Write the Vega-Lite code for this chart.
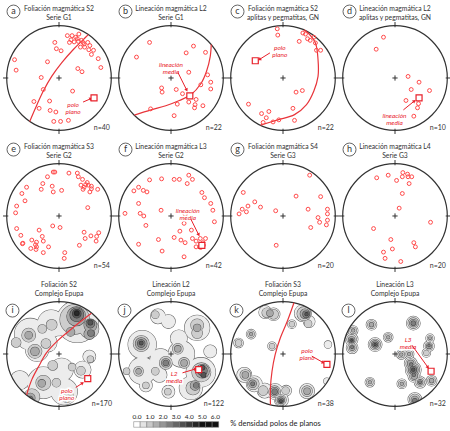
{
"$schema":"https://vega.github.io/schema/vega-lite/v6.json",
"padding":{"left":1,"top":0,"right":0,"bottom":0},
"spacing":0,
"config":{"view":{"stroke":null},"font":"Lato"},
"vconcat":[
{
"data":{"values":[
{"panel":"a","kind":"title","t1":"Foliación magmática S2","t2":"Serie G1","n":"n=40","lx":-0.87,"ly":1.27},
{"panel":"b","kind":"title","t1":"Lineación magmática L2","t2":"Serie G1","n":"n=22","lx":-0.87,"ly":1.27},
{"panel":"c","kind":"title","t1":"Foliación magmática S2","t2":"aplitas y pegmatitas, GN","n":"n=22","lx":-0.87,"ly":1.27},
{"panel":"d","kind":"title","t1":"Lineación magmática L2","t2":"aplitas y pegmatitas, GN","n":"n=10","lx":-0.87,"ly":1.27},
{"panel":"e","kind":"title","t1":"Foliación magmática S3","t2":"Serie G2","n":"n=54","lx":-0.87,"ly":1.27},
{"panel":"f","kind":"title","t1":"Lineación magmática L3","t2":"Serie G2","n":"n=42","lx":-0.87,"ly":1.27},
{"panel":"g","kind":"title","t1":"Foliación magmática S4","t2":"Serie G3","n":"n=20","lx":-0.87,"ly":1.27},
{"panel":"h","kind":"title","t1":"Lineación magmática L4","t2":"Serie G3","n":"n=20","lx":-0.87,"ly":1.27},
{"panel":"i","kind":"title","t1":"Foliación S2","t2":"Complejo Epupa","n":"n=170","lx":-0.89,"ly":0.83},
{"panel":"j","kind":"title","t1":"Lineación L2","t2":"Complejo Epupa","n":"n=122","lx":-0.89,"ly":0.83},
{"panel":"k","kind":"title","t1":"Foliación S3","t2":"Complejo Epupa","n":"n=38","lx":-0.89,"ly":0.83},
{"panel":"l","kind":"title","t1":"Lineación L3","t2":"Complejo Epupa","n":"n=32","lx":-0.89,"ly":0.83},

{"panel":"a","kind":"pt","x":0.16,"y":0.81},{"panel":"a","kind":"pt","x":0.25,"y":0.81},{"panel":"a","kind":"pt","x":0.38,"y":0.84},{"panel":"a","kind":"pt","x":0.35,"y":0.75},{"panel":"a","kind":"pt","x":0.20,"y":0.68},{"panel":"a","kind":"pt","x":0.29,"y":0.69},{"panel":"a","kind":"pt","x":-0.08,"y":0.68},{"panel":"a","kind":"pt","x":0.46,"y":0.68},{"panel":"a","kind":"pt","x":0.55,"y":0.68},{"panel":"a","kind":"pt","x":0.48,"y":0.65},{"panel":"a","kind":"pt","x":0.41,"y":0.59},{"panel":"a","kind":"pt","x":0.49,"y":0.59},{"panel":"a","kind":"pt","x":0.57,"y":0.54},{"panel":"a","kind":"pt","x":0.66,"y":0.53},{"panel":"a","kind":"pt","x":-0.05,"y":0.56},{"panel":"a","kind":"pt","x":0.04,"y":0.52},{"panel":"a","kind":"pt","x":0.75,"y":0.37},{"panel":"a","kind":"pt","x":0.80,"y":0.20},{"panel":"a","kind":"pt","x":-0.85,"y":0.35},{"panel":"a","kind":"pt","x":-0.82,"y":0.15},{"panel":"a","kind":"pt","x":-0.22,"y":0.31},{"panel":"a","kind":"pt","x":0.36,"y":0.18},{"panel":"a","kind":"pt","x":0.44,"y":0.12},{"panel":"a","kind":"pt","x":-0.34,"y":0.01},{"panel":"a","kind":"pt","x":-0.30,"y":-0.22},{"panel":"a","kind":"pt","x":0.26,"y":-0.25},{"panel":"a","kind":"pt","x":-0.48,"y":-0.45},{"panel":"a","kind":"pt","x":-0.18,"y":-0.44},{"panel":"a","kind":"pt","x":-0.38,"y":-0.58},{"panel":"a","kind":"pt","x":-0.17,"y":-0.62},{"panel":"a","kind":"pt","x":-0.06,"y":-0.65},{"panel":"a","kind":"pt","x":-0.10,"y":-0.83},{"panel":"a","kind":"pt","x":0.03,"y":-0.83},{"panel":"a","kind":"pt","x":0.18,"y":-0.81},{"panel":"a","kind":"pt","x":0.43,"y":0.72},{"panel":"a","kind":"pt","x":0.32,"y":0.78},{"panel":"a","kind":"pt","x":0.59,"y":0.62},{"panel":"a","kind":"pt","x":0.37,"y":0.70},{"panel":"a","kind":"pt","x":0.23,"y":0.73},{"panel":"a","kind":"pt","x":0.62,"y":0.45},

{"panel":"b","kind":"pt","x":-0.41,"y":0.68},{"panel":"b","kind":"pt","x":-0.66,"y":0.40},{"panel":"b","kind":"pt","x":0.29,"y":0.48},{"panel":"b","kind":"pt","x":0.43,"y":0.61},{"panel":"b","kind":"pt","x":0.66,"y":0.49},{"panel":"b","kind":"pt","x":0.34,"y":0.11},{"panel":"b","kind":"pt","x":0.70,"y":0.06},{"panel":"b","kind":"pt","x":0.76,"y":-0.08},{"panel":"b","kind":"pt","x":0.57,"y":-0.13},{"panel":"b","kind":"pt","x":0.76,"y":-0.21},{"panel":"b","kind":"pt","x":-0.18,"y":-0.19},{"panel":"b","kind":"pt","x":-0.17,"y":-0.27},{"panel":"b","kind":"pt","x":0.22,"y":-0.30},{"panel":"b","kind":"pt","x":0.10,"y":-0.22},{"panel":"b","kind":"pt","x":0.48,"y":-0.41},{"panel":"b","kind":"pt","x":0.34,"y":-0.46},{"panel":"b","kind":"pt","x":0.46,"y":-0.51},{"panel":"b","kind":"pt","x":0.61,"y":-0.53},{"panel":"b","kind":"pt","x":0.45,"y":-0.57},{"panel":"b","kind":"pt","x":0.12,"y":-0.50},{"panel":"b","kind":"pt","x":-0.39,"y":-0.59},{"panel":"b","kind":"pt","x":0.06,"y":-0.72},

{"panel":"c","kind":"pt","x":-0.11,"y":0.94},{"panel":"c","kind":"pt","x":-0.10,"y":0.82},{"panel":"c","kind":"pt","x":0.38,"y":0.86},{"panel":"c","kind":"pt","x":0.43,"y":0.84},{"panel":"c","kind":"pt","x":0.31,"y":0.70},{"panel":"c","kind":"pt","x":0.52,"y":0.72},{"panel":"c","kind":"pt","x":0.62,"y":0.67},{"panel":"c","kind":"pt","x":0.64,"y":0.53},{"panel":"c","kind":"pt","x":0.72,"y":0.53},{"panel":"c","kind":"pt","x":0.25,"y":-0.27},{"panel":"c","kind":"pt","x":0.37,"y":-0.24},{"panel":"c","kind":"pt","x":-0.66,"y":-0.50},{"panel":"c","kind":"pt","x":-0.27,"y":-0.64},{"panel":"c","kind":"pt","x":-0.41,"y":-0.68},{"panel":"c","kind":"pt","x":0.19,"y":-0.58},{"panel":"c","kind":"pt","x":-0.32,"y":-0.76},{"panel":"c","kind":"pt","x":-0.08,"y":-0.80},{"panel":"c","kind":"pt","x":-0.19,"y":-0.84},{"panel":"c","kind":"pt","x":0.22,"y":-0.81},{"panel":"c","kind":"pt","x":-0.38,"y":-0.85},{"panel":"c","kind":"pt","x":0.59,"y":0.78},{"panel":"c","kind":"pt","x":0.47,"y":0.75},

{"panel":"d","kind":"pt","x":-0.22,"y":0.78},{"panel":"d","kind":"pt","x":-0.36,"y":0.55},{"panel":"d","kind":"pt","x":0.25,"y":0.03},{"panel":"d","kind":"pt","x":0.46,"y":-0.08},{"panel":"d","kind":"pt","x":0.31,"y":-0.22},{"panel":"d","kind":"pt","x":0.66,"y":-0.24},{"panel":"d","kind":"pt","x":0.21,"y":-0.43},{"panel":"d","kind":"pt","x":0.45,"y":-0.49},{"panel":"d","kind":"pt","x":0.43,"y":-0.57},{"panel":"d","kind":"pt","x":0.36,"y":-0.73},

{"panel":"e","kind":"pt","x":-0.11,"y":0.84},{"panel":"e","kind":"pt","x":-0.08,"y":0.84},{"panel":"e","kind":"pt","x":0.19,"y":0.82},{"panel":"e","kind":"pt","x":0.35,"y":0.82},{"panel":"e","kind":"pt","x":0.37,"y":0.75},{"panel":"e","kind":"pt","x":-0.22,"y":0.75},{"panel":"e","kind":"pt","x":0.45,"y":0.70},{"panel":"e","kind":"pt","x":-0.31,"y":0.62},{"panel":"e","kind":"pt","x":0.42,"y":0.59},{"panel":"e","kind":"pt","x":0.54,"y":0.64},{"panel":"e","kind":"pt","x":0.56,"y":0.59},{"panel":"e","kind":"pt","x":-0.62,"y":0.55},{"panel":"e","kind":"pt","x":-0.13,"y":0.57},{"panel":"e","kind":"pt","x":-0.34,"y":0.51},{"panel":"e","kind":"pt","x":0.46,"y":0.51},{"panel":"e","kind":"pt","x":0.62,"y":0.52},{"panel":"e","kind":"pt","x":0.74,"y":0.51},{"panel":"e","kind":"pt","x":0.05,"y":0.49},{"panel":"e","kind":"pt","x":-0.11,"y":0.46},{"panel":"e","kind":"pt","x":0.59,"y":0.46},{"panel":"e","kind":"pt","x":-0.71,"y":0.43},{"panel":"e","kind":"pt","x":-0.65,"y":0.29},{"panel":"e","kind":"pt","x":-0.81,"y":0.19},{"panel":"e","kind":"pt","x":0.55,"y":0.16},{"panel":"e","kind":"pt","x":-0.83,"y":0.06},{"panel":"e","kind":"pt","x":-0.12,"y":-0.19},{"panel":"e","kind":"pt","x":0.02,"y":-0.22},{"panel":"e","kind":"pt","x":-0.81,"y":-0.24},{"panel":"e","kind":"pt","x":-0.38,"y":-0.27},{"panel":"e","kind":"pt","x":0.48,"y":-0.31},{"panel":"e","kind":"pt","x":-0.73,"y":-0.37},{"panel":"e","kind":"pt","x":-0.32,"y":-0.39},{"panel":"e","kind":"pt","x":0.76,"y":-0.32},{"panel":"e","kind":"pt","x":0.61,"y":-0.38},{"panel":"e","kind":"pt","x":0.72,"y":-0.39},{"panel":"e","kind":"pt","x":0.50,"y":-0.43},{"panel":"e","kind":"pt","x":-0.52,"y":-0.46},{"panel":"e","kind":"pt","x":-0.43,"y":-0.50},{"panel":"e","kind":"pt","x":-0.30,"y":-0.48},{"panel":"e","kind":"pt","x":-0.70,"y":-0.53},{"panel":"e","kind":"pt","x":0.71,"y":-0.48},{"panel":"e","kind":"pt","x":0.39,"y":-0.56},{"panel":"e","kind":"pt","x":-0.43,"y":-0.59},{"panel":"e","kind":"pt","x":-0.54,"y":-0.62},{"panel":"e","kind":"pt","x":-0.44,"y":-0.64},{"panel":"e","kind":"pt","x":-0.20,"y":-0.59},{"panel":"e","kind":"pt","x":-0.30,"y":-0.70},{"panel":"e","kind":"pt","x":0.11,"y":-0.70},{"panel":"e","kind":"pt","x":0.10,"y":-0.81},{"panel":"e","kind":"pt","x":0.48,"y":0.55},{"panel":"e","kind":"pt","x":0.62,"y":0.57},{"panel":"e","kind":"pt","x":-0.69,"y":-0.52},{"panel":"e","kind":"pt","x":0.51,"y":0.60},{"panel":"e","kind":"pt","x":-0.45,"y":-0.55},

{"panel":"f","kind":"pt","x":-0.41,"y":0.69},{"panel":"f","kind":"pt","x":-0.18,"y":0.71},{"panel":"f","kind":"pt","x":0.06,"y":0.70},{"panel":"f","kind":"pt","x":0.16,"y":0.70},{"panel":"f","kind":"pt","x":0.34,"y":0.78},{"panel":"f","kind":"pt","x":0.41,"y":0.70},{"panel":"f","kind":"pt","x":0.31,"y":0.62},{"panel":"f","kind":"pt","x":-0.62,"y":0.55},{"panel":"f","kind":"pt","x":-0.71,"y":0.48},{"panel":"f","kind":"pt","x":-0.53,"y":0.49},{"panel":"f","kind":"pt","x":-0.46,"y":0.46},{"panel":"f","kind":"pt","x":0.59,"y":0.45},{"panel":"f","kind":"pt","x":0.64,"y":0.35},{"panel":"f","kind":"pt","x":-0.62,"y":0.24},{"panel":"f","kind":"pt","x":0.76,"y":0.24},{"panel":"f","kind":"pt","x":0.80,"y":0.11},{"panel":"f","kind":"pt","x":-0.88,"y":0.05},{"panel":"f","kind":"pt","x":-0.59,"y":0.05},{"panel":"f","kind":"pt","x":-0.52,"y":0.00},{"panel":"f","kind":"pt","x":-0.19,"y":0.11},{"panel":"f","kind":"pt","x":0.27,"y":0.03},{"panel":"f","kind":"pt","x":0.83,"y":-0.11},{"panel":"f","kind":"pt","x":0.25,"y":-0.14},{"panel":"f","kind":"pt","x":-0.48,"y":-0.18},{"panel":"f","kind":"pt","x":0.17,"y":-0.29},{"panel":"f","kind":"pt","x":0.39,"y":-0.27},{"panel":"f","kind":"pt","x":0.06,"y":-0.41},{"panel":"f","kind":"pt","x":0.19,"y":-0.46},{"panel":"f","kind":"pt","x":0.41,"y":-0.43},{"panel":"f","kind":"pt","x":0.56,"y":-0.43},{"panel":"f","kind":"pt","x":0.66,"y":-0.43},{"panel":"f","kind":"pt","x":-0.24,"y":-0.45},{"panel":"f","kind":"pt","x":0.27,"y":-0.51},{"panel":"f","kind":"pt","x":0.48,"y":-0.48},{"panel":"f","kind":"pt","x":0.61,"y":-0.51},{"panel":"f","kind":"pt","x":-0.62,"y":-0.54},{"panel":"f","kind":"pt","x":0.48,"y":-0.59},{"panel":"f","kind":"pt","x":0.55,"y":-0.59},{"panel":"f","kind":"pt","x":0.62,"y":-0.56},{"panel":"f","kind":"pt","x":-0.17,"y":-0.67},{"panel":"f","kind":"pt","x":0.25,"y":-0.78},{"panel":"f","kind":"pt","x":0.57,"y":-0.60},

{"panel":"g","kind":"pt","x":0.51,"y":0.78},{"panel":"g","kind":"pt","x":0.25,"y":0.38},{"panel":"g","kind":"pt","x":0.72,"y":0.37},{"panel":"g","kind":"pt","x":-0.76,"y":0.45},{"panel":"g","kind":"pt","x":-0.54,"y":0.27},{"panel":"g","kind":"pt","x":-0.67,"y":0.19},{"panel":"g","kind":"pt","x":-0.43,"y":0.17},{"panel":"g","kind":"pt","x":-0.78,"y":0.13},{"panel":"g","kind":"pt","x":-0.70,"y":0.08},{"panel":"g","kind":"pt","x":-0.84,"y":0.04},{"panel":"g","kind":"pt","x":-0.14,"y":0.10},{"panel":"g","kind":"pt","x":0.48,"y":0.13},{"panel":"g","kind":"pt","x":0.85,"y":0.13},{"panel":"g","kind":"pt","x":0.85,"y":0.04},{"panel":"g","kind":"pt","x":0.67,"y":-0.03},{"panel":"g","kind":"pt","x":0.85,"y":-0.08},{"panel":"g","kind":"pt","x":0.70,"y":-0.12},{"panel":"g","kind":"pt","x":0.83,"y":-0.17},{"panel":"g","kind":"pt","x":0.53,"y":-0.22},{"panel":"g","kind":"pt","x":-0.13,"y":-0.56},

{"panel":"h","kind":"pt","x":-0.35,"y":0.73},{"panel":"h","kind":"pt","x":-0.13,"y":0.78},{"panel":"h","kind":"pt","x":0.15,"y":0.83},{"panel":"h","kind":"pt","x":0.14,"y":0.75},{"panel":"h","kind":"pt","x":0.24,"y":0.80},{"panel":"h","kind":"pt","x":0.25,"y":0.75},{"panel":"h","kind":"pt","x":0.32,"y":0.75},{"panel":"h","kind":"pt","x":0.03,"y":0.68},{"panel":"h","kind":"pt","x":0.27,"y":0.62},{"panel":"h","kind":"pt","x":0.14,"y":0.43},{"panel":"h","kind":"pt","x":0.08,"y":0.15},{"panel":"h","kind":"pt","x":0.68,"y":-0.12},{"panel":"h","kind":"pt","x":-0.41,"y":-0.24},{"panel":"h","kind":"pt","x":-0.08,"y":-0.45},{"panel":"h","kind":"pt","x":0.36,"y":-0.51},{"panel":"h","kind":"pt","x":0.39,"y":-0.59},{"panel":"h","kind":"pt","x":-0.05,"y":-0.63},{"panel":"h","kind":"pt","x":-0.22,"y":-0.69},{"panel":"h","kind":"pt","x":-0.19,"y":-0.81},{"panel":"h","kind":"pt","x":0.11,"y":-0.87},

{"panel":"a","kind":"arc","o":1,"x":-0.56,"y":-0.83},{"panel":"a","kind":"arc","o":2,"x":-0.43,"y":-0.53},{"panel":"a","kind":"arc","o":3,"x":-0.30,"y":-0.25},{"panel":"a","kind":"arc","o":4,"x":-0.14,"y":0.03},{"panel":"a","kind":"arc","o":5,"x":0.05,"y":0.29},{"panel":"a","kind":"arc","o":6,"x":0.27,"y":0.54},{"panel":"a","kind":"arc","o":7,"x":0.46,"y":0.73},{"panel":"a","kind":"arc","o":8,"x":0.56,"y":0.83},
{"panel":"b","kind":"arc","o":1,"x":-0.70,"y":-0.71},{"panel":"b","kind":"arc","o":2,"x":-0.38,"y":-0.61},{"panel":"b","kind":"arc","o":3,"x":-0.10,"y":-0.53},{"panel":"b","kind":"arc","o":4,"x":0.16,"y":-0.43},{"panel":"b","kind":"arc","o":5,"x":0.38,"y":-0.32},{"panel":"b","kind":"arc","o":6,"x":0.57,"y":-0.11},{"panel":"b","kind":"arc","o":7,"x":0.68,"y":0.13},{"panel":"b","kind":"arc","o":8,"x":0.75,"y":0.41},{"panel":"b","kind":"arc","o":9,"x":0.77,"y":0.64},
{"panel":"c","kind":"arc","o":1,"x":-0.43,"y":-0.90},{"panel":"c","kind":"arc","o":2,"x":-0.10,"y":-0.80},{"panel":"c","kind":"arc","o":3,"x":0.22,"y":-0.70},{"panel":"c","kind":"arc","o":4,"x":0.45,"y":-0.51},{"panel":"c","kind":"arc","o":5,"x":0.59,"y":-0.25},{"panel":"c","kind":"arc","o":6,"x":0.67,"y":0.03},{"panel":"c","kind":"arc","o":7,"x":0.67,"y":0.35},{"panel":"c","kind":"arc","o":8,"x":0.62,"y":0.67},{"panel":"c","kind":"arc","o":9,"x":0.48,"y":0.86},{"panel":"c","kind":"arc","o":10,"x":0.40,"y":0.92},
{"panel":"i","kind":"arc","o":1,"x":-0.62,"y":-0.78},{"panel":"i","kind":"arc","o":2,"x":-0.52,"y":-0.49},{"panel":"i","kind":"arc","o":3,"x":-0.39,"y":-0.24},{"panel":"i","kind":"arc","o":4,"x":-0.24,"y":0.02},{"panel":"i","kind":"arc","o":5,"x":-0.04,"y":0.24},{"panel":"i","kind":"arc","o":6,"x":0.18,"y":0.43},{"panel":"i","kind":"arc","o":7,"x":0.40,"y":0.61},{"panel":"i","kind":"arc","o":8,"x":0.62,"y":0.78},
{"panel":"k","kind":"arc","o":1,"x":0.21,"y":0.98},{"panel":"k","kind":"arc","o":2,"x":0.08,"y":0.62},{"panel":"k","kind":"arc","o":3,"x":-0.05,"y":0.31},{"panel":"k","kind":"arc","o":4,"x":-0.15,"y":-0.01},{"panel":"k","kind":"arc","o":5,"x":-0.21,"y":-0.33},{"panel":"k","kind":"arc","o":6,"x":-0.24,"y":-0.65},{"panel":"k","kind":"arc","o":7,"x":-0.24,"y":-0.97},

{"panel":"a","kind":"sq","x":0.67,"y":-0.38},{"panel":"b","kind":"sq","x":0.36,"y":-0.34},{"panel":"c","kind":"sq","x":-0.53,"y":0.33},{"panel":"d","kind":"sq","x":0.46,"y":-0.38},{"panel":"f","kind":"sq","x":0.59,"y":-0.56},{"panel":"i","kind":"sq","x":0.55,"y":-0.47},{"panel":"j","kind":"sq","x":0.53,"y":-0.30},{"panel":"k","kind":"sq","x":0.84,"y":-0.20},{"panel":"l","kind":"sq","x":0.69,"y":-0.33},

{"panel":"a","kind":"arrow","x":0.46,"y":-0.46,"x2":0.61,"y2":-0.395,"ang":66},
{"panel":"b","kind":"arrow","x":0.13,"y":0.11,"x2":0.30,"y2":-0.23,"ang":153},
{"panel":"c","kind":"arrow","x":-0.25,"y":0.48,"x2":-0.45,"y2":0.355,"ang":238},
{"panel":"d","kind":"arrow","x":0.16,"y":-0.61,"x2":0.37,"y2":-0.44,"ang":51},
{"panel":"f","kind":"arrow","x":0.38,"y":-0.06,"x2":0.53,"y2":-0.36,"ang":153},
{"panel":"i","kind":"arrow","x":0.32,"y":-0.64,"x2":0.45,"y2":-0.555,"ang":57},
{"panel":"j","kind":"arrow","x":0.22,"y":-0.36,"x2":0.47,"y2":-0.285,"ang":73},
{"panel":"k","kind":"arrow","x":0.55,"y":-0.04,"x2":0.77,"y2":-0.165,"ang":120},
{"panel":"l","kind":"arrow","x":0.33,"y":0.16,"x2":0.63,"y2":-0.255,"ang":144},

{"panel":"a","kind":"lab","txt":"polo\nplano","x":0.27,"y":-0.52},
{"panel":"b","kind":"lab","txt":"lineación\nmedia","x":0.0,"y":0.24},
{"panel":"c","kind":"lab","txt":"polo\nplano","x":-0.06,"y":0.57},
{"panel":"d","kind":"lab","txt":"lineación\nmedia","x":-0.01,"y":-0.72},
{"panel":"f","kind":"lab","txt":"lineación\nmedia","x":0.32,"y":0.10},
{"panel":"i","kind":"lab","txt":"polo\nplano","x":0.15,"y":-0.71},
{"panel":"j","kind":"lab","txt":"L2\nmedia","x":0.06,"y":-0.38},
{"panel":"k","kind":"lab","txt":"polo\nplano","x":0.46,"y":0.06},
{"panel":"l","kind":"lab","txt":"L3\nmedia","x":0.25,"y":0.27},

{"panel":"i","kind":"blob","lev":1,"x":0.35,"y":0.62,"r":0.40},{"panel":"i","kind":"blob","lev":1,"x":-0.15,"y":0.58,"r":0.26},{"panel":"i","kind":"blob","lev":1,"x":-0.55,"y":0.38,"r":0.30},{"panel":"i","kind":"blob","lev":1,"x":-0.42,"y":0.08,"r":0.22},{"panel":"i","kind":"blob","lev":1,"x":-0.22,"y":0.22,"r":0.18},{"panel":"i","kind":"blob","lev":1,"x":0.05,"y":-0.30,"r":0.22},{"panel":"i","kind":"blob","lev":1,"x":-0.30,"y":-0.55,"r":0.30},{"panel":"i","kind":"blob","lev":1,"x":0.10,"y":-0.72,"r":0.25},{"panel":"i","kind":"blob","lev":1,"x":0.45,"y":-0.30,"r":0.16},{"panel":"i","kind":"blob","lev":1,"x":0.58,"y":-0.05,"r":0.12},{"panel":"i","kind":"blob","lev":1,"x":-0.75,"y":-0.50,"r":0.18},{"panel":"i","kind":"blob","lev":1,"x":0.0,"y":0.50,"r":0.15},
{"panel":"i","kind":"blob","lev":2,"x":0.30,"y":0.66,"r":0.28},{"panel":"i","kind":"blob","lev":2,"x":0.58,"y":0.48,"r":0.18},{"panel":"i","kind":"blob","lev":2,"x":-0.14,"y":0.56,"r":0.10},{"panel":"i","kind":"blob","lev":2,"x":-0.32,"y":0.48,"r":0.08},{"panel":"i","kind":"blob","lev":2,"x":-0.58,"y":0.36,"r":0.13},{"panel":"i","kind":"blob","lev":2,"x":-0.82,"y":0.22,"r":0.09},{"panel":"i","kind":"blob","lev":2,"x":-0.46,"y":0.05,"r":0.13},{"panel":"i","kind":"blob","lev":2,"x":-0.25,"y":0.20,"r":0.09},{"panel":"i","kind":"blob","lev":2,"x":-0.12,"y":-0.22,"r":0.09},{"panel":"i","kind":"blob","lev":2,"x":0.42,"y":-0.32,"r":0.08},{"panel":"i","kind":"blob","lev":2,"x":0.25,"y":-0.25,"r":0.07},{"panel":"i","kind":"blob","lev":2,"x":-0.30,"y":-0.55,"r":0.14},{"panel":"i","kind":"blob","lev":2,"x":-0.52,"y":-0.82,"r":0.15},{"panel":"i","kind":"blob","lev":2,"x":0.15,"y":-0.80,"r":0.12},{"panel":"i","kind":"blob","lev":2,"x":0.60,"y":-0.10,"r":0.06},{"panel":"i","kind":"blob","lev":2,"x":-0.05,"y":-0.55,"r":0.08},
{"panel":"i","kind":"blob","lev":3,"x":0.33,"y":0.72,"r":0.18},{"panel":"i","kind":"blob","lev":3,"x":0.60,"y":0.55,"r":0.12},{"panel":"i","kind":"blob","lev":3,"x":0.58,"y":0.38,"r":0.10},{"panel":"i","kind":"blob","lev":3,"x":0.22,"y":0.42,"r":0.08},{"panel":"i","kind":"blob","lev":3,"x":-0.46,"y":0.05,"r":0.08},{"panel":"i","kind":"blob","lev":3,"x":-0.55,"y":-0.84,"r":0.09},{"panel":"i","kind":"blob","lev":3,"x":0.15,"y":-0.84,"r":0.07},{"panel":"i","kind":"blob","lev":3,"x":-0.33,"y":-0.56,"r":0.07},{"panel":"i","kind":"blob","lev":3,"x":-0.58,"y":0.36,"r":0.07},
{"panel":"i","kind":"blob","lev":4,"x":0.34,"y":0.75,"r":0.13},{"panel":"i","kind":"blob","lev":4,"x":0.60,"y":0.58,"r":0.08},{"panel":"i","kind":"blob","lev":4,"x":0.61,"y":0.40,"r":0.06},{"panel":"i","kind":"blob","lev":4,"x":-0.55,"y":-0.86,"r":0.05},
{"panel":"i","kind":"blob","lev":5,"x":0.34,"y":0.77,"r":0.08},{"panel":"i","kind":"blob","lev":5,"x":0.60,"y":0.60,"r":0.045},
{"panel":"i","kind":"blob","lev":6,"x":0.34,"y":0.78,"r":0.045},

{"panel":"j","kind":"blob","lev":1,"x":-0.25,"y":0.72,"r":0.14},{"panel":"j","kind":"blob","lev":1,"x":-0.05,"y":0.62,"r":0.13},{"panel":"j","kind":"blob","lev":1,"x":0.50,"y":0.50,"r":0.24},{"panel":"j","kind":"blob","lev":1,"x":-0.55,"y":0.18,"r":0.27},{"panel":"j","kind":"blob","lev":1,"x":0.15,"y":0.30,"r":0.16},{"panel":"j","kind":"blob","lev":1,"x":0.20,"y":0.00,"r":0.25},{"panel":"j","kind":"blob","lev":1,"x":-0.20,"y":-0.10,"r":0.20},{"panel":"j","kind":"blob","lev":1,"x":-0.55,"y":-0.32,"r":0.26},{"panel":"j","kind":"blob","lev":1,"x":-0.22,"y":-0.40,"r":0.14},{"panel":"j","kind":"blob","lev":1,"x":0.57,"y":-0.35,"r":0.28},{"panel":"j","kind":"blob","lev":1,"x":0.38,"y":-0.65,"r":0.22},{"panel":"j","kind":"blob","lev":1,"x":-0.05,"y":-0.72,"r":0.12},{"panel":"j","kind":"blob","lev":1,"x":-0.48,"y":-0.60,"r":0.12},{"panel":"j","kind":"blob","lev":1,"x":0.75,"y":0.05,"r":0.12},
{"panel":"j","kind":"blob","lev":2,"x":-0.30,"y":0.75,"r":0.07},{"panel":"j","kind":"blob","lev":2,"x":0.50,"y":0.55,"r":0.12},{"panel":"j","kind":"blob","lev":2,"x":0.50,"y":0.40,"r":0.10},{"panel":"j","kind":"blob","lev":2,"x":-0.57,"y":0.20,"r":0.15},{"panel":"j","kind":"blob","lev":2,"x":0.13,"y":0.10,"r":0.10},{"panel":"j","kind":"blob","lev":2,"x":-0.10,"y":-0.17,"r":0.12},{"panel":"j","kind":"blob","lev":2,"x":0.25,"y":-0.17,"r":0.10},{"panel":"j","kind":"blob","lev":2,"x":-0.62,"y":-0.33,"r":0.09},{"panel":"j","kind":"blob","lev":2,"x":-0.30,"y":-0.33,"r":0.07},{"panel":"j","kind":"blob","lev":2,"x":0.58,"y":-0.35,"r":0.18},{"panel":"j","kind":"blob","lev":2,"x":0.42,"y":-0.65,"r":0.13},{"panel":"j","kind":"blob","lev":2,"x":-0.48,"y":-0.60,"r":0.06},{"panel":"j","kind":"blob","lev":2,"x":-0.06,"y":-0.72,"r":0.06},{"panel":"j","kind":"blob","lev":2,"x":-0.85,"y":-0.33,"r":0.06},
{"panel":"j","kind":"blob","lev":3,"x":0.50,"y":0.50,"r":0.07},{"panel":"j","kind":"blob","lev":3,"x":-0.57,"y":0.20,"r":0.11},{"panel":"j","kind":"blob","lev":3,"x":0.13,"y":0.10,"r":0.06},{"panel":"j","kind":"blob","lev":3,"x":-0.10,"y":-0.17,"r":0.08},{"panel":"j","kind":"blob","lev":3,"x":0.25,"y":-0.17,"r":0.06},{"panel":"j","kind":"blob","lev":3,"x":-0.62,"y":-0.33,"r":0.05},{"panel":"j","kind":"blob","lev":3,"x":0.60,"y":-0.33,"r":0.13},{"panel":"j","kind":"blob","lev":3,"x":0.46,"y":-0.60,"r":0.09},
{"panel":"j","kind":"blob","lev":4,"x":-0.57,"y":0.20,"r":0.07},{"panel":"j","kind":"blob","lev":4,"x":-0.10,"y":-0.17,"r":0.05},{"panel":"j","kind":"blob","lev":4,"x":0.60,"y":-0.32,"r":0.09},{"panel":"j","kind":"blob","lev":4,"x":0.48,"y":-0.60,"r":0.05},
{"panel":"j","kind":"blob","lev":5,"x":-0.57,"y":0.21,"r":0.035},{"panel":"j","kind":"blob","lev":5,"x":0.60,"y":-0.26,"r":0.045},{"panel":"j","kind":"blob","lev":5,"x":0.62,"y":-0.40,"r":0.045},

{"panel":"k","kind":"blob","lev":1,"x":-0.34,"y":0.80,"r":0.12},{"panel":"k","kind":"blob","lev":1,"x":-0.18,"y":0.76,"r":0.12},{"panel":"k","kind":"blob","lev":1,"x":0.38,"y":0.78,"r":0.16},{"panel":"k","kind":"blob","lev":1,"x":0.50,"y":0.62,"r":0.11},{"panel":"k","kind":"blob","lev":1,"x":0.17,"y":0.57,"r":0.08},{"panel":"k","kind":"blob","lev":1,"x":-0.61,"y":0.38,"r":0.09},{"panel":"k","kind":"blob","lev":1,"x":-0.85,"y":0.21,"r":0.09},{"panel":"k","kind":"blob","lev":1,"x":-0.21,"y":0.15,"r":0.08},{"panel":"k","kind":"blob","lev":1,"x":0.86,"y":0.18,"r":0.07},{"panel":"k","kind":"blob","lev":1,"x":-0.74,"y":-0.40,"r":0.14},{"panel":"k","kind":"blob","lev":1,"x":-0.55,"y":-0.57,"r":0.15},{"panel":"k","kind":"blob","lev":1,"x":-0.35,"y":-0.70,"r":0.14},{"panel":"k","kind":"blob","lev":1,"x":-0.15,"y":-0.72,"r":0.15},{"panel":"k","kind":"blob","lev":1,"x":-0.03,"y":-0.88,"r":0.13},{"panel":"k","kind":"blob","lev":1,"x":0.06,"y":-0.70,"r":0.10},{"panel":"k","kind":"blob","lev":1,"x":0.46,"y":-0.71,"r":0.14},{"panel":"k","kind":"blob","lev":1,"x":0.84,"y":-0.52,"r":0.06},
{"panel":"k","kind":"blob","lev":2,"x":-0.31,"y":0.79,"r":0.09},{"panel":"k","kind":"blob","lev":2,"x":-0.18,"y":0.76,"r":0.09},{"panel":"k","kind":"blob","lev":2,"x":0.40,"y":0.77,"r":0.13},{"panel":"k","kind":"blob","lev":2,"x":0.48,"y":0.58,"r":0.07},{"panel":"k","kind":"blob","lev":2,"x":0.17,"y":0.57,"r":0.05},{"panel":"k","kind":"blob","lev":2,"x":-0.61,"y":0.38,"r":0.06},{"panel":"k","kind":"blob","lev":2,"x":-0.85,"y":0.21,"r":0.06},{"panel":"k","kind":"blob","lev":2,"x":-0.21,"y":0.15,"r":0.05},{"panel":"k","kind":"blob","lev":2,"x":-0.72,"y":-0.40,"r":0.10},{"panel":"k","kind":"blob","lev":2,"x":-0.57,"y":-0.57,"r":0.11},{"panel":"k","kind":"blob","lev":2,"x":-0.38,"y":-0.70,"r":0.09},{"panel":"k","kind":"blob","lev":2,"x":-0.16,"y":-0.72,"r":0.11},{"panel":"k","kind":"blob","lev":2,"x":-0.04,"y":-0.88,"r":0.10},{"panel":"k","kind":"blob","lev":2,"x":0.05,"y":-0.70,"r":0.07},{"panel":"k","kind":"blob","lev":2,"x":0.46,"y":-0.71,"r":0.10},
{"panel":"k","kind":"blob","lev":3,"x":-0.25,"y":0.78,"r":0.06},{"panel":"k","kind":"blob","lev":3,"x":0.42,"y":0.77,"r":0.09},{"panel":"k","kind":"blob","lev":3,"x":-0.61,"y":0.38,"r":0.03},{"panel":"k","kind":"blob","lev":3,"x":-0.72,"y":-0.40,"r":0.06},{"panel":"k","kind":"blob","lev":3,"x":-0.58,"y":-0.57,"r":0.07},{"panel":"k","kind":"blob","lev":3,"x":-0.16,"y":-0.72,"r":0.08},{"panel":"k","kind":"blob","lev":3,"x":-0.04,"y":-0.88,"r":0.07},{"panel":"k","kind":"blob","lev":3,"x":0.46,"y":-0.71,"r":0.06},
{"panel":"k","kind":"blob","lev":4,"x":0.44,"y":0.76,"r":0.06},{"panel":"k","kind":"blob","lev":4,"x":-0.58,"y":-0.57,"r":0.035},{"panel":"k","kind":"blob","lev":4,"x":-0.16,"y":-0.72,"r":0.05},{"panel":"k","kind":"blob","lev":4,"x":-0.04,"y":-0.89,"r":0.05},
{"panel":"k","kind":"blob","lev":5,"x":0.45,"y":0.76,"r":0.03},{"panel":"k","kind":"blob","lev":5,"x":-0.04,"y":-0.90,"r":0.025},

{"panel":"l","kind":"blob","lev":1,"x":-0.45,"y":0.56,"r":0.10},{"panel":"l","kind":"blob","lev":2,"x":-0.45,"y":0.56,"r":0.07},{"panel":"l","kind":"blob","lev":3,"x":-0.45,"y":0.56,"r":0.04},
{"panel":"l","kind":"blob","lev":1,"x":-0.80,"y":0.45,"r":0.09},{"panel":"l","kind":"blob","lev":2,"x":-0.80,"y":0.45,"r":0.06},{"panel":"l","kind":"blob","lev":3,"x":-0.80,"y":0.45,"r":0.03},
{"panel":"l","kind":"blob","lev":1,"x":-0.83,"y":0.28,"r":0.12},{"panel":"l","kind":"blob","lev":2,"x":-0.83,"y":0.28,"r":0.09},{"panel":"l","kind":"blob","lev":3,"x":-0.83,"y":0.27,"r":0.06},{"panel":"l","kind":"blob","lev":4,"x":-0.83,"y":0.26,"r":0.035},{"panel":"l","kind":"blob","lev":5,"x":-0.83,"y":0.26,"r":0.015},
{"panel":"l","kind":"blob","lev":1,"x":-0.82,"y":0.12,"r":0.11},{"panel":"l","kind":"blob","lev":2,"x":-0.82,"y":0.12,"r":0.08},{"panel":"l","kind":"blob","lev":3,"x":-0.82,"y":0.12,"r":0.05},{"panel":"l","kind":"blob","lev":4,"x":-0.82,"y":0.13,"r":0.025},
{"panel":"l","kind":"blob","lev":1,"x":-0.38,"y":0.18,"r":0.13},{"panel":"l","kind":"blob","lev":2,"x":-0.38,"y":0.18,"r":0.10},{"panel":"l","kind":"blob","lev":3,"x":-0.38,"y":0.18,"r":0.07},{"panel":"l","kind":"blob","lev":4,"x":-0.38,"y":0.18,"r":0.045},{"panel":"l","kind":"blob","lev":5,"x":-0.38,"y":0.18,"r":0.02},
{"panel":"l","kind":"blob","lev":1,"x":-0.13,"y":0.32,"r":0.09},{"panel":"l","kind":"blob","lev":2,"x":-0.13,"y":0.32,"r":0.06},{"panel":"l","kind":"blob","lev":3,"x":-0.13,"y":0.32,"r":0.03},
{"panel":"l","kind":"blob","lev":1,"x":0.35,"y":0.59,"r":0.13},{"panel":"l","kind":"blob","lev":2,"x":0.35,"y":0.59,"r":0.10},{"panel":"l","kind":"blob","lev":3,"x":0.35,"y":0.59,"r":0.07},{"panel":"l","kind":"blob","lev":4,"x":0.35,"y":0.59,"r":0.04},
{"panel":"l","kind":"blob","lev":1,"x":0.67,"y":0.30,"r":0.08},{"panel":"l","kind":"blob","lev":2,"x":0.67,"y":0.30,"r":0.05},{"panel":"l","kind":"blob","lev":3,"x":0.67,"y":0.30,"r":0.025},
{"panel":"l","kind":"blob","lev":1,"x":0.65,"y":0.15,"r":0.10},{"panel":"l","kind":"blob","lev":2,"x":0.65,"y":0.15,"r":0.07},{"panel":"l","kind":"blob","lev":3,"x":0.65,"y":0.15,"r":0.045},{"panel":"l","kind":"blob","lev":4,"x":0.65,"y":0.16,"r":0.02},
{"panel":"l","kind":"blob","lev":1,"x":0.60,"y":0.02,"r":0.08},{"panel":"l","kind":"blob","lev":2,"x":0.60,"y":0.02,"r":0.05},
{"panel":"l","kind":"blob","lev":1,"x":0.12,"y":-0.01,"r":0.09},{"panel":"l","kind":"blob","lev":2,"x":0.12,"y":-0.01,"r":0.06},{"panel":"l","kind":"blob","lev":3,"x":0.12,"y":-0.01,"r":0.03},
{"panel":"l","kind":"blob","lev":1,"x":0.27,"y":0.00,"r":0.09},{"panel":"l","kind":"blob","lev":2,"x":0.27,"y":0.00,"r":0.06},{"panel":"l","kind":"blob","lev":3,"x":0.27,"y":0.00,"r":0.03},
{"panel":"l","kind":"blob","lev":1,"x":0.30,"y":-0.18,"r":0.12},{"panel":"l","kind":"blob","lev":2,"x":0.30,"y":-0.18,"r":0.09},{"panel":"l","kind":"blob","lev":3,"x":0.30,"y":-0.18,"r":0.06},{"panel":"l","kind":"blob","lev":4,"x":0.31,"y":-0.20,"r":0.03},
{"panel":"l","kind":"blob","lev":1,"x":0.35,"y":-0.30,"r":0.15},{"panel":"l","kind":"blob","lev":2,"x":0.35,"y":-0.30,"r":0.12},{"panel":"l","kind":"blob","lev":3,"x":0.35,"y":-0.30,"r":0.09},{"panel":"l","kind":"blob","lev":4,"x":0.35,"y":-0.30,"r":0.06},{"panel":"l","kind":"blob","lev":5,"x":0.35,"y":-0.30,"r":0.03},
{"panel":"l","kind":"blob","lev":1,"x":0.37,"y":-0.42,"r":0.12},{"panel":"l","kind":"blob","lev":2,"x":0.37,"y":-0.42,"r":0.09},{"panel":"l","kind":"blob","lev":3,"x":0.37,"y":-0.42,"r":0.06},{"panel":"l","kind":"blob","lev":4,"x":0.36,"y":-0.40,"r":0.03},
{"panel":"l","kind":"blob","lev":1,"x":0.48,"y":-0.54,"r":0.11},{"panel":"l","kind":"blob","lev":2,"x":0.48,"y":-0.54,"r":0.08},{"panel":"l","kind":"blob","lev":3,"x":0.48,"y":-0.54,"r":0.05},{"panel":"l","kind":"blob","lev":4,"x":0.48,"y":-0.54,"r":0.025},
{"panel":"l","kind":"blob","lev":1,"x":0.70,"y":-0.51,"r":0.10},{"panel":"l","kind":"blob","lev":2,"x":0.70,"y":-0.51,"r":0.07},{"panel":"l","kind":"blob","lev":3,"x":0.70,"y":-0.51,"r":0.04},
{"panel":"l","kind":"blob","lev":1,"x":0.13,"y":-0.57,"r":0.09},{"panel":"l","kind":"blob","lev":2,"x":0.13,"y":-0.57,"r":0.06},{"panel":"l","kind":"blob","lev":3,"x":0.13,"y":-0.57,"r":0.03},
{"panel":"l","kind":"blob","lev":1,"x":-0.48,"y":-0.54,"r":0.09},{"panel":"l","kind":"blob","lev":2,"x":-0.48,"y":-0.54,"r":0.06},{"panel":"l","kind":"blob","lev":3,"x":-0.48,"y":-0.54,"r":0.03},
{"panel":"l","kind":"blob","lev":1,"x":0.38,"y":-0.87,"r":0.13},{"panel":"l","kind":"blob","lev":2,"x":0.38,"y":-0.87,"r":0.10},{"panel":"l","kind":"blob","lev":3,"x":0.38,"y":-0.88,"r":0.07},{"panel":"l","kind":"blob","lev":4,"x":0.38,"y":-0.89,"r":0.04}
]},
"transform":[{"lookup":"panel","from":{"data":{"values":[{"panel":"a","pr":1,"pc":1},{"panel":"b","pr":1,"pc":2},{"panel":"c","pr":1,"pc":3},{"panel":"d","pr":1,"pc":4},{"panel":"e","pr":2,"pc":1},{"panel":"f","pr":2,"pc":2},{"panel":"g","pr":2,"pc":3},{"panel":"h","pr":2,"pc":4},{"panel":"i","pr":3,"pc":1},{"panel":"j","pr":3,"pc":2},{"panel":"k","pr":3,"pc":3},{"panel":"l","pr":3,"pc":4}]},"key":"panel","fields":["pr","pc"]}}],
"facet":{"row":{"field":"pr","type":"ordinal","title":null,"header":null},"column":{"field":"pc","type":"ordinal","title":null,"header":null}},
"spacing":{"row":0,"column":0},
"bounds":"flush",
"spec":{
"width":112,"height":138,
"layer":[
{"transform":[{"filter":"datum.kind==='blob'&&datum.lev===1"}],"mark":{"type":"point","shape":"circle","filled":true,"fill":"#ececec","stroke":"#666666","strokeWidth":1.1,"opacity":1,"clip":true},"encoding":{"x":{"field":"x","type":"quantitative","scale":{"domain":[-1.071,1.071],"nice":false,"zero":false},"axis":null},"y":{"field":"y","type":"quantitative","scale":{"domain":[-1.147,1.491],"nice":false,"zero":false},"axis":null},"size":{"field":"r","type":"quantitative","scale":{"type":"pow","exponent":2,"domain":[0,1],"range":[0,10942]},"legend":null}}},
{"transform":[{"filter":"datum.kind==='blob'&&datum.lev===1"}],"mark":{"type":"point","shape":"circle","filled":true,"fill":"#ececec","strokeWidth":0,"opacity":1,"clip":true},"encoding":{"x":{"field":"x","type":"quantitative","scale":{"domain":[-1.071,1.071],"nice":false,"zero":false},"axis":null},"y":{"field":"y","type":"quantitative","scale":{"domain":[-1.147,1.491],"nice":false,"zero":false},"axis":null},"size":{"field":"r","type":"quantitative","scale":{"type":"pow","exponent":2,"domain":[0,1],"range":[0,10942]},"legend":null}}},
{"transform":[{"filter":"datum.kind==='blob'&&datum.lev===2"}],"mark":{"type":"point","shape":"circle","filled":true,"fill":"#cdcdcd","stroke":"#666666","strokeWidth":1.1,"opacity":1,"clip":true},"encoding":{"x":{"field":"x","type":"quantitative","scale":{"domain":[-1.071,1.071],"nice":false,"zero":false},"axis":null},"y":{"field":"y","type":"quantitative","scale":{"domain":[-1.147,1.491],"nice":false,"zero":false},"axis":null},"size":{"field":"r","type":"quantitative","scale":{"type":"pow","exponent":2,"domain":[0,1],"range":[0,10942]},"legend":null}}},
{"transform":[{"filter":"datum.kind==='blob'&&datum.lev===2"}],"mark":{"type":"point","shape":"circle","filled":true,"fill":"#cdcdcd","strokeWidth":0,"opacity":1,"clip":true},"encoding":{"x":{"field":"x","type":"quantitative","scale":{"domain":[-1.071,1.071],"nice":false,"zero":false},"axis":null},"y":{"field":"y","type":"quantitative","scale":{"domain":[-1.147,1.491],"nice":false,"zero":false},"axis":null},"size":{"field":"r","type":"quantitative","scale":{"type":"pow","exponent":2,"domain":[0,1],"range":[0,10942]},"legend":null}}},
{"transform":[{"filter":"datum.kind==='blob'&&datum.lev===3"}],"mark":{"type":"point","shape":"circle","filled":true,"fill":"#a8a8a8","stroke":"#555555","strokeWidth":1.1,"opacity":1,"clip":true},"encoding":{"x":{"field":"x","type":"quantitative","scale":{"domain":[-1.071,1.071],"nice":false,"zero":false},"axis":null},"y":{"field":"y","type":"quantitative","scale":{"domain":[-1.147,1.491],"nice":false,"zero":false},"axis":null},"size":{"field":"r","type":"quantitative","scale":{"type":"pow","exponent":2,"domain":[0,1],"range":[0,10942]},"legend":null}}},
{"transform":[{"filter":"datum.kind==='blob'&&datum.lev===3"}],"mark":{"type":"point","shape":"circle","filled":true,"fill":"#a8a8a8","strokeWidth":0,"opacity":1,"clip":true},"encoding":{"x":{"field":"x","type":"quantitative","scale":{"domain":[-1.071,1.071],"nice":false,"zero":false},"axis":null},"y":{"field":"y","type":"quantitative","scale":{"domain":[-1.147,1.491],"nice":false,"zero":false},"axis":null},"size":{"field":"r","type":"quantitative","scale":{"type":"pow","exponent":2,"domain":[0,1],"range":[0,10942]},"legend":null}}},
{"transform":[{"filter":"datum.kind==='blob'&&datum.lev===4"}],"mark":{"type":"point","shape":"circle","filled":true,"fill":"#7e7e7e","stroke":"#444444","strokeWidth":1.1,"opacity":1,"clip":true},"encoding":{"x":{"field":"x","type":"quantitative","scale":{"domain":[-1.071,1.071],"nice":false,"zero":false},"axis":null},"y":{"field":"y","type":"quantitative","scale":{"domain":[-1.147,1.491],"nice":false,"zero":false},"axis":null},"size":{"field":"r","type":"quantitative","scale":{"type":"pow","exponent":2,"domain":[0,1],"range":[0,10942]},"legend":null}}},
{"transform":[{"filter":"datum.kind==='blob'&&datum.lev===4"}],"mark":{"type":"point","shape":"circle","filled":true,"fill":"#7e7e7e","strokeWidth":0,"opacity":1,"clip":true},"encoding":{"x":{"field":"x","type":"quantitative","scale":{"domain":[-1.071,1.071],"nice":false,"zero":false},"axis":null},"y":{"field":"y","type":"quantitative","scale":{"domain":[-1.147,1.491],"nice":false,"zero":false},"axis":null},"size":{"field":"r","type":"quantitative","scale":{"type":"pow","exponent":2,"domain":[0,1],"range":[0,10942]},"legend":null}}},
{"transform":[{"filter":"datum.kind==='blob'&&datum.lev===5"}],"mark":{"type":"point","shape":"circle","filled":true,"fill":"#545454","stroke":"#333333","strokeWidth":1.1,"opacity":1,"clip":true},"encoding":{"x":{"field":"x","type":"quantitative","scale":{"domain":[-1.071,1.071],"nice":false,"zero":false},"axis":null},"y":{"field":"y","type":"quantitative","scale":{"domain":[-1.147,1.491],"nice":false,"zero":false},"axis":null},"size":{"field":"r","type":"quantitative","scale":{"type":"pow","exponent":2,"domain":[0,1],"range":[0,10942]},"legend":null}}},
{"transform":[{"filter":"datum.kind==='blob'&&datum.lev===5"}],"mark":{"type":"point","shape":"circle","filled":true,"fill":"#545454","strokeWidth":0,"opacity":1,"clip":true},"encoding":{"x":{"field":"x","type":"quantitative","scale":{"domain":[-1.071,1.071],"nice":false,"zero":false},"axis":null},"y":{"field":"y","type":"quantitative","scale":{"domain":[-1.147,1.491],"nice":false,"zero":false},"axis":null},"size":{"field":"r","type":"quantitative","scale":{"type":"pow","exponent":2,"domain":[0,1],"range":[0,10942]},"legend":null}}},
{"transform":[{"filter":"datum.kind==='blob'&&datum.lev===6"}],"mark":{"type":"point","shape":"circle","filled":true,"fill":"#2a2a2a","stroke":"#222222","strokeWidth":1.1,"opacity":1,"clip":true},"encoding":{"x":{"field":"x","type":"quantitative","scale":{"domain":[-1.071,1.071],"nice":false,"zero":false},"axis":null},"y":{"field":"y","type":"quantitative","scale":{"domain":[-1.147,1.491],"nice":false,"zero":false},"axis":null},"size":{"field":"r","type":"quantitative","scale":{"type":"pow","exponent":2,"domain":[0,1],"range":[0,10942]},"legend":null}}},
{"transform":[{"filter":"datum.kind==='title'"}],"mark":{"type":"point","shape":"circle","size":24025,"filled":false,"stroke":"white","strokeWidth":50,"opacity":1,"clip":true},"encoding":{"x":{"datum":0,"type":"quantitative","scale":{"domain":[-1.071,1.071],"nice":false,"zero":false},"axis":null},"y":{"datum":0,"type":"quantitative","scale":{"domain":[-1.147,1.491],"nice":false,"zero":false},"axis":null}}},
{"transform":[{"filter":"datum.kind==='title'"}],"mark":{"type":"point","shape":"circle","size":10942,"filled":false,"stroke":"#333333","strokeWidth":1.2,"opacity":1},"encoding":{"x":{"datum":0,"type":"quantitative","scale":{"domain":[-1.071,1.071],"nice":false,"zero":false},"axis":null},"y":{"datum":0,"type":"quantitative","scale":{"domain":[-1.147,1.491],"nice":false,"zero":false},"axis":null}}},
{"transform":[{"filter":"datum.kind==='title'"}],"mark":{"type":"point","shape":"M0,-1.07V-0.97M0,0.97V1.07M-1.07,0H-0.97M0.97,0H1.07M-0.05,0H0.05M0,-0.05V0.05","size":10942,"filled":false,"stroke":"#333333","strokeWidth":1,"opacity":1},"encoding":{"x":{"datum":0,"type":"quantitative","scale":{"domain":[-1.071,1.071],"nice":false,"zero":false},"axis":null},"y":{"datum":0,"type":"quantitative","scale":{"domain":[-1.147,1.491],"nice":false,"zero":false},"axis":null}}},
{"transform":[{"filter":"datum.kind==='arc'"}],"mark":{"type":"line","color":"#e8343a","strokeWidth":1.2,"interpolate":"catmull-rom"},"encoding":{"x":{"field":"x","type":"quantitative","scale":{"domain":[-1.071,1.071],"nice":false,"zero":false},"axis":null},"y":{"field":"y","type":"quantitative","scale":{"domain":[-1.147,1.491],"nice":false,"zero":false},"axis":null},"order":{"field":"o","type":"quantitative"}}},
{"transform":[{"filter":"datum.kind==='pt'"}],"mark":{"type":"point","shape":"circle","size":15,"filled":false,"stroke":"#ff4a4a","strokeWidth":1,"opacity":1},"encoding":{"x":{"field":"x","type":"quantitative","scale":{"domain":[-1.071,1.071],"nice":false,"zero":false},"axis":null},"y":{"field":"y","type":"quantitative","scale":{"domain":[-1.147,1.491],"nice":false,"zero":false},"axis":null}}},
{"transform":[{"filter":"datum.kind==='lab'"}],"mark":{"type":"text","fontSize":6.5,"fontStyle":"italic","color":"white","stroke":"white","strokeWidth":3,"lineBreak":"\n","lineHeight":7,"align":"center","baseline":"middle"},"encoding":{"x":{"field":"x","type":"quantitative","scale":{"domain":[-1.071,1.071],"nice":false,"zero":false},"axis":null},"y":{"field":"y","type":"quantitative","scale":{"domain":[-1.147,1.491],"nice":false,"zero":false},"axis":null},"text":{"field":"txt"}}},
{"transform":[{"filter":"datum.kind==='arrow'"}],"mark":{"type":"rule","color":"#e8202a","strokeWidth":1},"encoding":{"x":{"field":"x","type":"quantitative","scale":{"domain":[-1.071,1.071],"nice":false,"zero":false},"axis":null},"y":{"field":"y","type":"quantitative","scale":{"domain":[-1.147,1.491],"nice":false,"zero":false},"axis":null},"x2":{"field":"x2"},"y2":{"field":"y2"}}},
{"transform":[{"filter":"datum.kind==='arrow'"}],"mark":{"type":"point","shape":"triangle-up","size":14,"filled":true,"fill":"#e8202a","strokeWidth":0,"opacity":1},"encoding":{"x":{"field":"x2","type":"quantitative","scale":{"domain":[-1.071,1.071],"nice":false,"zero":false},"axis":null},"y":{"field":"y2","type":"quantitative","scale":{"domain":[-1.147,1.491],"nice":false,"zero":false},"axis":null},"angle":{"field":"ang","type":"quantitative","scale":null}}},
{"transform":[{"filter":"datum.kind==='sq'"}],"mark":{"type":"point","shape":"square","size":36,"filled":true,"fill":"white","stroke":"#e8202a","strokeWidth":1.2,"opacity":1},"encoding":{"x":{"field":"x","type":"quantitative","scale":{"domain":[-1.071,1.071],"nice":false,"zero":false},"axis":null},"y":{"field":"y","type":"quantitative","scale":{"domain":[-1.147,1.491],"nice":false,"zero":false},"axis":null}}},
{"transform":[{"filter":"datum.kind==='lab'"}],"mark":{"type":"text","fontSize":6.5,"fontStyle":"italic","color":"#e8202a","lineBreak":"\n","lineHeight":7,"align":"center","baseline":"middle"},"encoding":{"x":{"field":"x","type":"quantitative","scale":{"domain":[-1.071,1.071],"nice":false,"zero":false},"axis":null},"y":{"field":"y","type":"quantitative","scale":{"domain":[-1.147,1.491],"nice":false,"zero":false},"axis":null},"text":{"field":"txt"}}},
{"transform":[{"filter":"datum.kind==='title'"}],"mark":{"type":"text","fontSize":6.8,"color":"#333333","align":"center","baseline":"middle"},"encoding":{"x":{"datum":0,"type":"quantitative","scale":{"domain":[-1.071,1.071],"nice":false,"zero":false},"axis":null},"y":{"datum":1.31,"type":"quantitative","scale":{"domain":[-1.147,1.491],"nice":false,"zero":false},"axis":null},"text":{"field":"t1"}}},
{"transform":[{"filter":"datum.kind==='title'"}],"mark":{"type":"text","fontSize":6.8,"color":"#333333","align":"center","baseline":"middle"},"encoding":{"x":{"datum":0,"type":"quantitative","scale":{"domain":[-1.071,1.071],"nice":false,"zero":false},"axis":null},"y":{"datum":1.15,"type":"quantitative","scale":{"domain":[-1.147,1.491],"nice":false,"zero":false},"axis":null},"text":{"field":"t2"}}},
{"transform":[{"filter":"datum.kind==='title'"}],"mark":{"type":"text","fontSize":7,"color":"#333333","align":"center","baseline":"middle"},"encoding":{"x":{"datum":0.82,"type":"quantitative","scale":{"domain":[-1.071,1.071],"nice":false,"zero":false},"axis":null},"y":{"datum":-0.96,"type":"quantitative","scale":{"domain":[-1.147,1.491],"nice":false,"zero":false},"axis":null},"text":{"field":"n"}}},
{"transform":[{"filter":"datum.kind==='title'"}],"mark":{"type":"point","shape":"circle","size":169,"filled":true,"fill":"white","stroke":"#555555","strokeWidth":0.9,"opacity":1},"encoding":{"x":{"field":"lx","type":"quantitative","scale":{"domain":[-1.071,1.071],"nice":false,"zero":false},"axis":null},"y":{"field":"ly","type":"quantitative","scale":{"domain":[-1.147,1.491],"nice":false,"zero":false},"axis":null}}},
{"transform":[{"filter":"datum.kind==='title'"}],"mark":{"type":"text","fontSize":9,"color":"#333333","align":"center","baseline":"middle","dy":-0.5},"encoding":{"x":{"field":"lx","type":"quantitative","scale":{"domain":[-1.071,1.071],"nice":false,"zero":false},"axis":null},"y":{"field":"ly","type":"quantitative","scale":{"domain":[-1.147,1.491],"nice":false,"zero":false},"axis":null},"text":{"field":"panel"}}}
]
}
},
{
"width":449,"height":17,
"layer":[
{"data":{"values":[{"v":0,"lo":-0.25,"hi":0.25},{"v":0.5,"lo":0.25,"hi":0.75},{"v":1,"lo":0.75,"hi":1.25},{"v":1.5,"lo":1.25,"hi":1.75},{"v":2,"lo":1.75,"hi":2.25},{"v":2.5,"lo":2.25,"hi":2.75},{"v":3,"lo":2.75,"hi":3.25},{"v":3.5,"lo":3.25,"hi":3.75},{"v":4,"lo":3.75,"hi":4.25},{"v":4.5,"lo":4.25,"hi":4.75},{"v":5,"lo":4.75,"hi":5.25},{"v":5.5,"lo":5.25,"hi":5.75},{"v":6,"lo":5.75,"hi":6.25}]},
"mark":{"type":"rect","stroke":"#777777","strokeWidth":0.5},
"encoding":{"x":{"field":"lo","type":"quantitative","scale":{"domain":[-10.24,24.09],"nice":false,"zero":false},"axis":null},"x2":{"field":"hi"},"y":{"datum":0.22,"type":"quantitative","scale":{"domain":[0,1],"nice":false,"zero":false},"axis":null},"y2":{"datum":0.55},"color":{"field":"v","type":"quantitative","scale":{"domain":[0,5],"range":["#ffffff","#111111"],"clamp":true},"legend":null}}},
{"data":{"values":[{"v":0,"t":"0.0"},{"v":1,"t":"1.0"},{"v":2,"t":"2.0"},{"v":3,"t":"3.0"},{"v":4,"t":"4.0"},{"v":5,"t":"5.0"},{"v":6,"t":"6.0"}]},
"mark":{"type":"text","fontSize":6.5,"color":"#222222","align":"center","baseline":"middle"},
"encoding":{"x":{"field":"v","type":"quantitative","scale":{"domain":[-10.24,24.09],"nice":false,"zero":false},"axis":null},"y":{"datum":0.82,"type":"quantitative","scale":{"domain":[0,1],"nice":false,"zero":false},"axis":null},"text":{"field":"t"}}},
{"data":{"values":[{"t":"% densidad polos de planos"}]},
"mark":{"type":"text","fontSize":7.5,"color":"#222222","align":"left","baseline":"middle"},
"encoding":{"x":{"datum":7.14,"type":"quantitative","scale":{"domain":[-10.24,24.09],"nice":false,"zero":false},"axis":null},"y":{"datum":0.41,"type":"quantitative","scale":{"domain":[0,1],"nice":false,"zero":false},"axis":null},"text":{"field":"t"}}}
]
}
]
}
